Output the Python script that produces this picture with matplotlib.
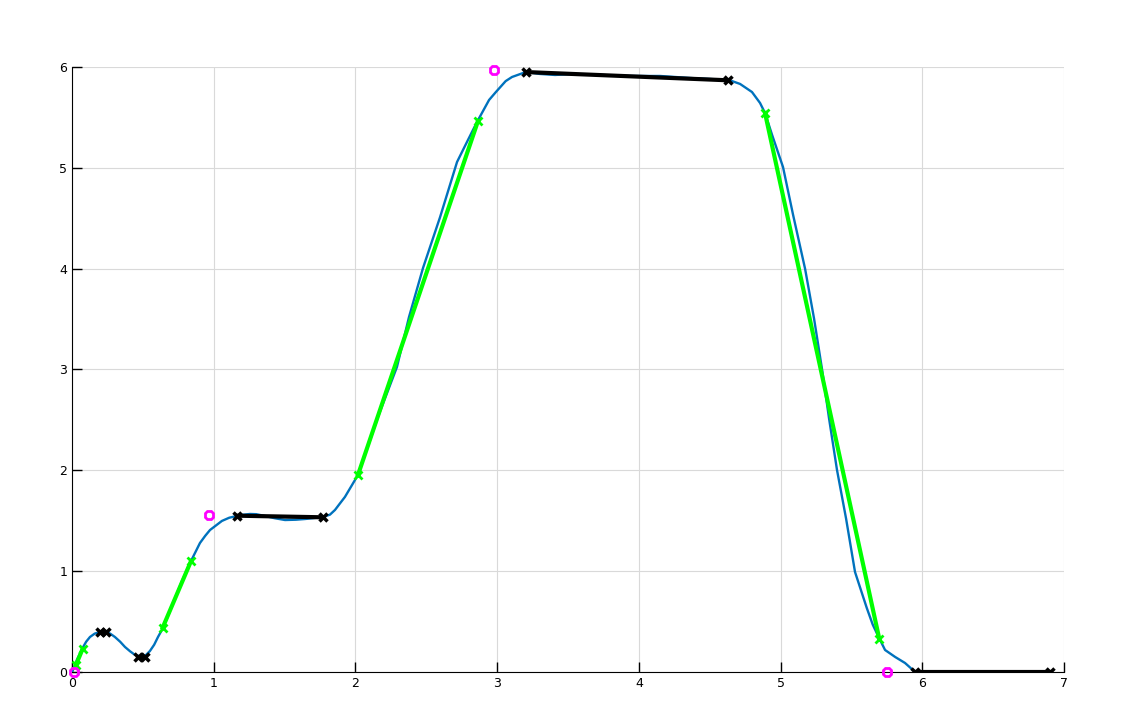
import matplotlib.pyplot as plt

# smooth signal (blue)
curve_x = [0.0, 0.014, 0.035, 0.071, 0.100, 0.127, 0.160, 0.198, 0.240, 0.270,
           0.303, 0.340, 0.374, 0.410, 0.445, 0.494, 0.520, 0.550, 0.580, 0.607,
           0.642, 0.706, 0.776, 0.840, 0.903, 0.940, 0.974, 1.058, 1.110, 1.164,
           1.210, 1.256, 1.300, 1.362, 1.430, 1.503, 1.580, 1.644, 1.700, 1.771,
           1.820, 1.856, 1.890, 1.926, 1.970, 2.018, 2.159, 2.293, 2.378, 2.477,
           2.597, 2.717, 2.759, 2.794, 2.858, 2.943, 2.990, 3.060, 3.105, 3.204,
           3.302, 3.408, 3.550, 3.726, 3.938, 4.149, 4.361, 4.502, 4.636, 4.714,
           4.798, 4.855, 4.890, 4.940, 5.017, 5.088, 5.173, 5.236, 5.292, 5.342,
           5.398, 5.462, 5.525, 5.608, 5.650, 5.688, 5.737, 5.808, 5.878, 5.949,
           6.902]
curve_y = [0.0, 0.04, 0.12, 0.228, 0.300, 0.347, 0.380, 0.397, 0.397, 0.380,
           0.347, 0.300, 0.248, 0.205, 0.169, 0.149, 0.165, 0.208, 0.270, 0.347,
           0.436, 0.655, 0.902, 1.101, 1.279, 1.350, 1.408, 1.498, 1.530, 1.547,
           1.560, 1.567, 1.565, 1.547, 1.525, 1.507, 1.510, 1.517, 1.525, 1.537,
           1.560, 1.607, 1.670, 1.736, 1.840, 1.954, 2.529, 3.025, 3.520, 4.007,
           4.510, 5.058, 5.177, 5.276, 5.455, 5.673, 5.750, 5.860, 5.901, 5.951,
           5.931, 5.921, 5.931, 5.921, 5.911, 5.911, 5.891, 5.881, 5.871, 5.832,
           5.752, 5.643, 5.544, 5.326, 5.008, 4.534, 3.997, 3.505, 3.005, 2.513,
           2.003, 1.521, 0.992, 0.635, 0.470, 0.357, 0.218, 0.149, 0.089, 0.0,
           0.0]

# flat segments (black)
flat_segs = [
    ([0.198, 0.240], [0.392, 0.392]),
    ([0.466, 0.515], [0.147, 0.147]),
    ([1.164, 1.771], [1.550, 1.534]),
    ([3.201, 4.631], [5.950, 5.868]),
    ([5.949, 6.902], [0.0, 0.0]),
]

# ramp segments (green)
ramp_segs = [
    ([0.028, 0.075], [0.07, 0.228]),
    ([0.640, 0.840], [0.44, 1.10]),
    ([2.018, 2.865], [1.954, 5.465]),
    ([4.890, 5.697], [5.544, 0.324]),
]

# peaks (magenta)
peak_x = [0.014, 0.967, 2.978, 5.751]
peak_y = [0.0, 1.557, 5.97, 0.0]

fig = plt.figure(figsize=(11.21, 7.06), dpi=100)
ax = fig.add_axes([0.0642, 0.0482, 0.885, 0.8569])

ax.plot(curve_x, curve_y, color='#0072BD', lw=1.7, zorder=3)
for xs, ys in flat_segs:
    ax.plot(xs, ys, color='black', lw=3, marker='x', ms=6, mew=2.5, zorder=4)
for xs, ys in ramp_segs:
    ax.plot(xs, ys, color='#00ff00', lw=3, marker='x', ms=6, mew=2, zorder=4)
ax.plot(peak_x, peak_y, ls='none', marker='8', ms=6, mfc='none',
        mec='#ff00ff', mew=2, zorder=5, clip_on=False)

ax.set_xlim(0, 7)
ax.set_ylim(0, 6)
ax.grid(True, color='#d9d9d9', lw=0.8)
ax.set_axisbelow(True)
for s in ['top', 'right']:
    ax.spines[s].set_visible(False)
ax.tick_params(direction='in', length=7, width=1, labelsize=9)

fig.savefig('out.png', dpi=100)
